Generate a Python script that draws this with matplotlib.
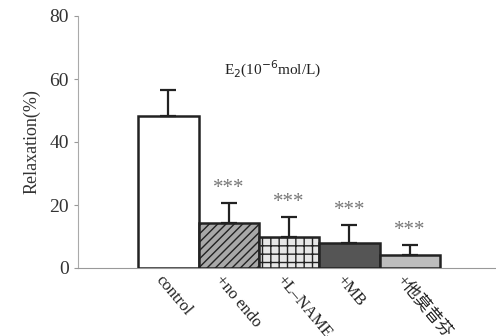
import numpy as np
import matplotlib.pyplot as plt

# data
groups = ['control', '+no endo', '+L\u2013NAME', '+MB', '+他莫昔芬']
means = [48.3, 14.3, 9.8, 7.9, 4.1]
errs = [8.2, 6.3, 6.4, 5.7, 3.2]
stars = ['', '***', '***', '***', '***']

plt.rcParams['font.family'] = ['Liberation Serif', 'Noto Sans CJK SC']

fig = plt.figure(figsize=(4.96, 3.36), dpi=100)
ax = fig.add_axes([78 / 496, 1 - 268 / 336, 1 - 78 / 496, (268 - 16) / 336])

x = np.arange(len(groups))
faces = ['white', '#a8a8a8', '#e6e6e6', '#555555', '#bdbdbd']
hatches = [None, '////', '++', None, None]
for i in range(len(groups)):
    ax.bar(x[i], means[i], width=1.0, color=faces[i], edgecolor='#222222',
           hatch=hatches[i], linewidth=1.8, zorder=3)
    ax.errorbar(x[i], means[i], yerr=[[0], [errs[i]]], fmt='none',
                ecolor='#222222', elinewidth=1.6, capsize=6, capthick=1.6, zorder=4)
    if stars[i]:
        ax.text(x[i], means[i] + errs[i] + 1.5, stars[i], ha='center', va='bottom',
                color='#777777', fontsize=15)

ax.set_xlim(-1.5, 5.43)
ax.set_ylim(0, 80)
ax.set_yticks([0, 20, 40, 60, 80])
ax.tick_params(axis='y', labelsize=14, length=3, color='#999999', labelcolor='#333333')
ax.set_xticks([])
ax.set_ylabel('Relaxation(%)', fontsize=13, color='#333333', labelpad=6)

for s in ['top', 'right']:
    ax.spines[s].set_visible(False)
ax.spines['left'].set_linestyle((0, (2, 1)))
ax.spines['left'].set_color('#aaaaaa')
ax.spines['bottom'].set_linestyle((0, (2, 1)))
ax.spines['bottom'].set_color('#999999')

ax.text(1.72, 63, 'E$_2$(10$^{-6}$mol/L)', ha='center', va='center',
        fontsize=11, color='#222222')

for i, g in enumerate(groups):
    ax.text(x[i] - 0.17, -3, g, rotation=-50, rotation_mode='anchor',
            ha='left', va='center', fontsize=12, color='#222222')

fig.savefig('out.png', dpi=100)
